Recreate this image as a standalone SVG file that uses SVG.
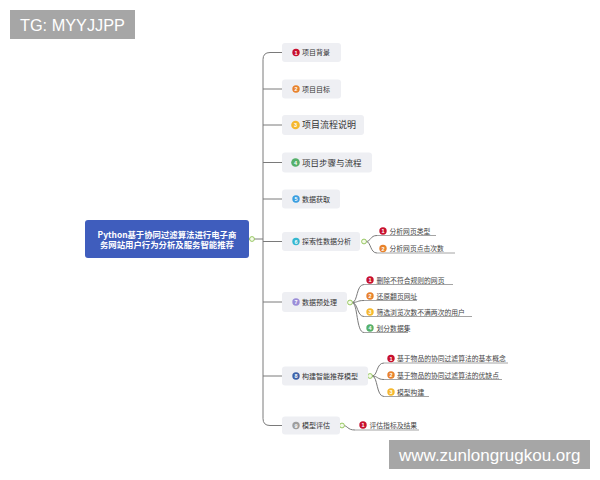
<svg xmlns="http://www.w3.org/2000/svg" width="600" height="480" viewBox="0 0 600 480">
<style>
.bg{fill:#ffffff}
.wm{fill:#a6a6a6}
.wmt{fill:#ffffff;font-family:"Liberation Sans",Arial,sans-serif}
.root{fill:#3f5dbd}
.roott{fill:#ffffff;font-family:"Noto Sans CJK SC",sans-serif;font-size:8.4px;font-weight:bold}
.box{fill:#eeeff3}
.t{fill:#333333;font-family:"Noto Sans CJK SC",sans-serif;font-size:7px}
.st{fill:#444444;font-family:"Noto Sans CJK SC",sans-serif;font-size:6.8px}
.n{fill:#ffffff;font-family:"Liberation Sans",Arial,sans-serif;font-size:5.5px;font-weight:bold;text-anchor:middle}
.ln{fill:none;stroke:#7a7a7a;stroke-width:1}
.ul{fill:none;stroke:#9a9a9a;stroke-width:0.9}
.dot{fill:#f4fbe9;stroke:#8cc152;stroke-width:0.9}
.c1{fill:#c8102e}.c2{fill:#e8822b}.c3{fill:#f5b82e}.c4{fill:#55b06a}.c5{fill:#3a9ee0}.c6{fill:#35b7cf}.c7{fill:#9b8ed8}.c8{fill:#3e62a8}.c9{fill:#9e9e9e}
</style>
<rect class="bg" x="0" y="0" width="600" height="480"/>

<g id="connectors">
  <path class="ln" d="M249,239 H263"/>
  <path class="ln" d="M282,52.5 H270 Q263,52.5 263,59.5 V418.5 Q263,425.5 270,425.5 H282"/>
  <path class="ln" d="M263,89 H282 M263,125 H282 M263,162.5 H282 M263,199 H282 M263,241.5 H282 M263,302 H282 M263,376 H282"/>
  <!-- item 6 subs -->
  <path class="ln" d="M366,241.5 C371,241.5 370,235.5 377,235.5"/>
  <path class="ln" d="M366,241.5 C371,241.5 370,253 377,253"/>
  <path class="ul" d="M377,235.5 H436 M377,253 H455"/>
  <!-- item 7 subs -->
  <path class="ln" d="M352,302.5 C358,302.5 356,284.5 364,284.5"/>
  <path class="ln" d="M352,302.5 C358,302.5 357,300.5 364,300.5"/>
  <path class="ln" d="M352,302.5 C358,302.5 357,316.5 364,316.5"/>
  <path class="ln" d="M352,302.5 C358,302.5 356,332.5 364,332.5"/>
  <path class="ul" d="M364,284.5 H453 M364,300.5 H417 M364,316.5 H472 M364,332.5 H408"/>
  <!-- item 8 subs -->
  <path class="ln" d="M372,376 C378,376 376,363 384,363"/>
  <path class="ln" d="M372,376 C378,376 377,379.5 384,379.5"/>
  <path class="ln" d="M372,376 C378,376 376,396.5 384,396.5"/>
  <path class="ul" d="M384,363 H508 M384,379.5 H502 M384,396.5 H429"/>
  <!-- item 9 sub -->
  <path class="ln" d="M343,425.5 C348,425.5 347,430 355,430"/>
  <path class="ul" d="M355,430 H419"/>
  <circle class="dot" cx="252" cy="239" r="2.4"/>
  <circle class="dot" cx="364" cy="241.5" r="2.4"/>
  <circle class="dot" cx="350" cy="302.5" r="2.4"/>
  <circle class="dot" cx="370" cy="376" r="2.4"/>
  <circle class="dot" cx="342" cy="425.5" r="2.4"/>
</g>

<g id="watermark-top">
  <rect class="wm" x="10" y="10" width="125" height="29"/>
  <text class="wmt" x="20" y="31" font-size="16.3">TG: MYYJJPP</text>
</g>

<g id="root">
  <rect class="root" x="85" y="220" width="164" height="38" rx="3"/>
  <text class="roott" x="167" y="237.5" text-anchor="middle">Python基于协同过滤算法进行电子商</text>
  <text class="roott" x="167" y="248" text-anchor="middle">务网站用户行为分析及服务智能推荐</text>
</g>

<g id="n1">
  <rect class="box" x="282" y="43" width="59" height="19" rx="3"/>
  <circle class="c1" cx="296" cy="52.5" r="3.7"/><text class="n" x="296" y="54.5">1</text>
  <text class="t" x="302" y="55">项目背景</text>
</g>
<g id="n2">
  <rect class="box" x="282" y="79.5" width="59" height="19" rx="3"/>
  <circle class="c2" cx="296" cy="89" r="3.7"/><text class="n" x="296" y="91">2</text>
  <text class="t" x="302" y="91.5">项目目标</text>
</g>
<g id="n3">
  <rect class="box" x="282" y="115" width="82" height="20" rx="3"/>
  <circle class="c3" cx="295.5" cy="125" r="4.3"/><text class="n" x="295.5" y="127">3</text>
  <text class="t" x="302" y="128.2" style="font-size:9px">项目流程说明</text>
</g>
<g id="n4">
  <rect class="box" x="282" y="152.5" width="90" height="20" rx="3"/>
  <circle class="c4" cx="295.5" cy="162.5" r="4.3"/><text class="n" x="295.5" y="164.5">4</text>
  <text class="t" x="302" y="165.5" style="font-size:8.5px">项目步骤与流程</text>
</g>
<g id="n5">
  <rect class="box" x="282" y="189.5" width="58" height="19" rx="3"/>
  <circle class="c5" cx="296" cy="199" r="3.7"/><text class="n" x="296" y="201">5</text>
  <text class="t" x="302" y="201.5">数据获取</text>
</g>
<g id="n6">
  <rect class="box" x="282" y="232" width="78" height="19" rx="3"/>
  <circle class="c6" cx="296" cy="241.5" r="3.7"/><text class="n" x="296" y="243.5">6</text>
  <text class="t" x="302" y="244">探索性数据分析</text>
</g>
<g id="n6-1">
  <circle class="c1" cx="383" cy="231" r="3.7"/><text class="n" x="383" y="233">1</text>
  <text class="st" x="389.5" y="233.5">分析网页类型</text>
</g>
<g id="n6-2">
  <circle class="c2" cx="383" cy="248.5" r="3.7"/><text class="n" x="383" y="250.5">2</text>
  <text class="st" x="389.5" y="251">分析网页点击次数</text>
</g>
<g id="n7">
  <rect class="box" x="282" y="292" width="65" height="20" rx="3"/>
  <circle class="c7" cx="296" cy="302" r="3.7"/><text class="n" x="296" y="304">7</text>
  <text class="t" x="302" y="304.5">数据预处理</text>
</g>
<g id="n7-1">
  <circle class="c1" cx="370" cy="280" r="3.7"/><text class="n" x="370" y="282">1</text>
  <text class="st" x="376.5" y="282.5">删除不符合规则的网页</text>
</g>
<g id="n7-2">
  <circle class="c2" cx="370" cy="296" r="3.7"/><text class="n" x="370" y="298">2</text>
  <text class="st" x="376.5" y="298.5">还原翻页网址</text>
</g>
<g id="n7-3">
  <circle class="c3" cx="370" cy="312" r="3.7"/><text class="n" x="370" y="314">3</text>
  <text class="st" x="376.5" y="314.5">筛选浏览次数不满两次的用户</text>
</g>
<g id="n7-4">
  <circle class="c4" cx="370" cy="328" r="3.7"/><text class="n" x="370" y="330">4</text>
  <text class="st" x="376.5" y="330.5">划分数据集</text>
</g>
<g id="n8">
  <rect class="box" x="282" y="366.5" width="86" height="19" rx="3"/>
  <circle class="c8" cx="296" cy="376" r="3.7"/><text class="n" x="296" y="378">8</text>
  <text class="t" x="302" y="378.5">构建智能推荐模型</text>
</g>
<g id="n8-1">
  <circle class="c1" cx="391" cy="358.5" r="3.7"/><text class="n" x="391" y="360.5">1</text>
  <text class="st" x="397" y="361">基于物品的协同过滤算法的基本概念</text>
</g>
<g id="n8-2">
  <circle class="c2" cx="391" cy="375" r="3.7"/><text class="n" x="391" y="377">2</text>
  <text class="st" x="397" y="377.5">基于物品的协同过滤算法的优缺点</text>
</g>
<g id="n8-3">
  <circle class="c3" cx="391" cy="392" r="3.7"/><text class="n" x="391" y="394">3</text>
  <text class="st" x="397" y="394.5">模型构建</text>
</g>
<g id="n9">
  <rect class="box" x="282" y="416.5" width="58" height="18" rx="3"/>
  <circle class="c9" cx="296" cy="425.5" r="3.7"/><text class="n" x="296" y="427.5">9</text>
  <text class="t" x="302" y="428">模型评估</text>
</g>
<g id="n9-1">
  <circle class="c1" cx="363" cy="425" r="3.7"/><text class="n" x="363" y="427">1</text>
  <text class="st" x="369.5" y="427.5">评估指标及结果</text>
</g>

<g id="watermark-bottom">
  <rect class="wm" x="389" y="440" width="201" height="29"/>
  <text class="wmt" x="399" y="461" font-size="17">www.zunlongrugkou.org</text>
</g>
</svg>
